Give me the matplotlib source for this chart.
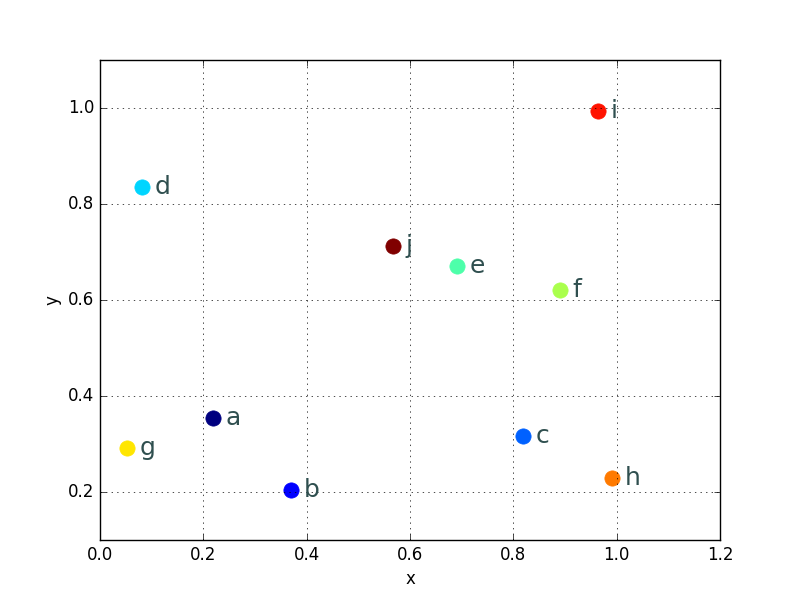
#!/usr/bin/env python3
"""Labelled scatter of ten points coloured along the jet colormap."""

import matplotlib

matplotlib.use("Agg")
import matplotlib.pyplot as plt
import numpy as np

labels = ["a", "b", "c", "d", "e", "f", "g", "h", "i", "j"]
x_vals = [0.219, 0.370, 0.819, 0.081, 0.691, 0.890, 0.052, 0.991, 0.964, 0.567]
y_vals = [0.354, 0.204, 0.317, 0.835, 0.671, 0.621, 0.292, 0.229, 0.994, 0.712]


def main() -> None:
    plt.style.use("classic")
    fig, ax = plt.subplots(figsize=(8, 6), dpi=100)
    colors = plt.cm.jet(np.linspace(0, 1, len(labels)))
    for label, xv, yv, color in zip(labels, x_vals, y_vals, colors):
        ax.plot(xv, yv, "o", color=color, markersize=11, markeredgecolor=color)
        ax.annotate(
            label,
            (xv, yv),
            xytext=(9, 0),
            textcoords="offset points",
            va="center",
            ha="left",
            fontsize=18,
            color="darkslategray",
        )
    ax.set_xlim(0.0, 1.2)
    ax.set_ylim(0.1, 1.1)
    ax.set_xlabel("x")
    ax.set_ylabel("y")
    ax.grid(True)
    fig.savefig("out.png", dpi=100)
    plt.close(fig)


if __name__ == "__main__":
    main()
